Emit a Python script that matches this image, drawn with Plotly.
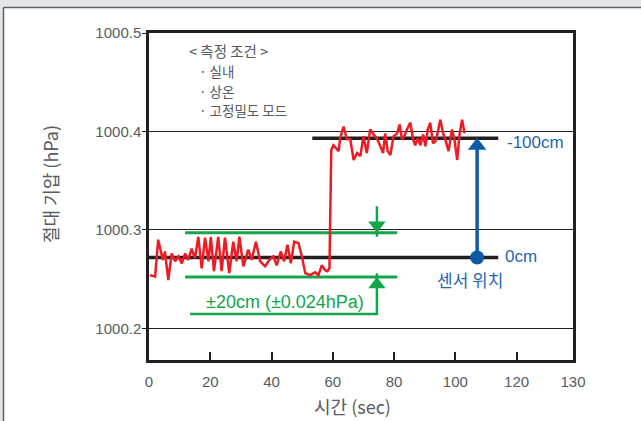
import plotly.graph_objects as go

# ---------------- data ----------------
time_s = [0.3, 2.0, 3.0, 4.5, 5.2, 6.3, 7.4, 8.5, 9.6, 10.7, 11.8, 12.8, 13.9, 15.0, 16.1, 17.2,
          18.3, 19.4, 20.2, 21.2, 22.6, 23.7, 24.8, 26.2, 27.5, 28.6, 29.5, 30.8, 32.4, 33.5,
          34.9, 36.3, 37.9, 39.3, 40.6, 41.7, 43.0, 44.1, 45.2, 46.3, 47.4, 48.8, 49.9, 51.0,
          52.6, 54.2, 55.3, 56.4, 57.5, 58.2, 58.9,
          59.5, 60.2, 61.9, 62.4, 63.5, 64.6, 65.7, 66.8, 67.9, 69.0, 70.0, 71.1, 72.2, 73.3,
          74.4, 75.5, 76.4, 77.1, 77.9, 78.8, 79.8, 81.0, 81.8, 82.6, 83.3, 84.2, 85.3, 86.2,
          86.9, 87.7, 88.6, 89.5, 90.2, 91.0, 91.8, 92.7, 93.5, 94.2, 95.1, 96.0, 96.7, 97.8,
          98.9, 99.7, 100.6, 101.4, 102.2, 103.0]
pressure_hpa = [1000.254, 1000.2525, 1000.290, 1000.2695, 1000.278, 1000.249, 1000.276, 1000.268,
                1000.273, 1000.266, 1000.276, 1000.2695, 1000.281, 1000.271, 1000.293, 1000.261,
                1000.292, 1000.268, 1000.293, 1000.258, 1000.293, 1000.258, 1000.292, 1000.256,
                1000.288, 1000.268, 1000.293, 1000.263, 1000.280, 1000.2695, 1000.288, 1000.268,
                1000.263, 1000.2695, 1000.273, 1000.264, 1000.278, 1000.268, 1000.285, 1000.266,
                1000.288, 1000.2865, 1000.273, 1000.256, 1000.254, 1000.257, 1000.254, 1000.264,
                1000.259, 1000.258, 1000.261,
                1000.381, 1000.386, 1000.380, 1000.393, 1000.405, 1000.392, 1000.392, 1000.371,
                1000.378, 1000.375, 1000.395, 1000.378, 1000.402, 1000.397, 1000.393, 1000.385,
                1000.378, 1000.398, 1000.380, 1000.376, 1000.395, 1000.398, 1000.407, 1000.392,
                1000.395, 1000.402, 1000.409, 1000.392, 1000.386, 1000.393, 1000.386, 1000.397,
                1000.385, 1000.402, 1000.409, 1000.388, 1000.390, 1000.398, 1000.412, 1000.398,
                1000.392, 1000.380, 1000.402, 1000.392, 1000.371, 1000.398, 1000.412, 1000.398]

level_0cm = 1000.272
level_m100cm = 1000.393
band_hi = 1000.297
band_lo = 1000.252

x_tick_vals = [0, 20, 40, 60, 80, 100, 120, 138.4]
x_tick_text = ["0", "20", "40", "60", "80", "100", "120", "130"]
y_tick_vals = [1000.2, 1000.3, 1000.4, 1000.5]
y_tick_text = ["1000.2", "1000.3", "1000.4", "1000.5"]

conditions = ["· 실내", "· 상온", "· 고정밀도 모드"]

# ---------------- style ----------------
RED = "#ed1c24"
BLACK = "#231f20"
GREEN = "#12a54a"
BLUE = "#0d5aa7"
BLUE_TXT = "#1f66b3"
GRAY_TXT = "#555b61"
KR = "Noto Sans CJK KR"
LAT = "Liberation Sans"

X_MAX = 138.4
Y_MIN, Y_MAX = 1000.1678, 1000.5

# plot area in pixels
L, R_, T, B = 149, 68, 33, 61
W, H = 641, 421
PW, PH = W - L - R_, H - T - B


def px(xp):
    return (xp - L) / PW


def py(yp):
    return (H - B - yp) / PH


fig = go.Figure()

# reference lines
fig.add_trace(go.Scatter(x=[0, 114], y=[level_0cm, level_0cm], mode="lines",
                         line=dict(color=BLACK, width=3.5), hoverinfo="skip"))
fig.add_trace(go.Scatter(x=[53.3, 114], y=[level_m100cm, level_m100cm], mode="lines",
                         line=dict(color=BLACK, width=3.5), hoverinfo="skip"))
# green band
for lv in (band_hi, band_lo):
    fig.add_trace(go.Scatter(x=[11.8, 81], y=[lv, lv], mode="lines",
                             line=dict(color=GREEN, width=3), hoverinfo="skip"))

# green arrow + bracket
GX = 74.4
fig.add_trace(go.Scatter(x=[GX, GX], y=[1000.324, band_hi - 0.004], mode="lines",
                         line=dict(color=GREEN, width=2.5), hoverinfo="skip"))
fig.add_trace(go.Scatter(x=[GX, GX, 13.4], y=[band_lo + 0.004, 1000.2145, 1000.2145], mode="lines",
                         line=dict(color=GREEN, width=2.5), hoverinfo="skip"))
fig.add_trace(go.Scatter(x=[GX], y=[band_hi + 0.0076], mode="markers",
                         marker=dict(symbol="triangle-down", size=15, color=GREEN), hoverinfo="skip"))
fig.add_trace(go.Scatter(x=[GX], y=[band_lo - 0.0076], mode="markers",
                         marker=dict(symbol="triangle-up", size=15, color=GREEN), hoverinfo="skip"))

# data
fig.add_trace(go.Scatter(x=time_s, y=pressure_hpa, mode="lines",
                         line=dict(color=RED, width=2.5), hoverinfo="skip"))

# blue sensor arrow
BX = 107.1
fig.add_trace(go.Scatter(x=[BX, BX], y=[level_0cm, level_m100cm - 0.008], mode="lines",
                         line=dict(color=BLUE, width=3.5), hoverinfo="skip"))
fig.add_trace(go.Scatter(x=[BX], y=[level_m100cm - 0.0076], mode="markers",
                         marker=dict(symbol="triangle-up", size=16, color=BLUE), hoverinfo="skip"))
fig.add_trace(go.Scatter(x=[BX], y=[level_0cm], mode="markers",
                         marker=dict(symbol="circle", size=14, color=BLUE), hoverinfo="skip"))

ann = []
# conditions box
ann.append(dict(x=12.4, y=1000.4821, text="< 측정 조건 >", xanchor="left", yanchor="middle",
                showarrow=False, font=dict(family=KR, size=14.5, color=GRAY_TXT)))
cond_y = [1000.4611, 1000.4412, 1000.4213]
for t, yy in zip(conditions, cond_y):
    ann.append(dict(x=15.6, y=yy, text=t, xanchor="left", yanchor="middle",
                    showarrow=False, font=dict(family=KR, size=13.5, color=GRAY_TXT)))
ann.append(dict(x=44.4, y=1000.2268, text="±20cm (±0.024hPa)", xanchor="center", yanchor="middle",
                showarrow=False, font=dict(family=LAT, size=18, color=GREEN)))
ann.append(dict(x=116.3, y=1000.3885, text="-100cm", xanchor="left", yanchor="middle",
                showarrow=False, font=dict(family=LAT, size=17, color=BLUE_TXT)))
ann.append(dict(x=115.7, y=1000.2725, text="0cm", xanchor="left", yanchor="middle",
                showarrow=False, font=dict(family=LAT, size=17, color=BLUE_TXT)))
ann.append(dict(x=104.9, y=1000.250, text="센서 위치", xanchor="center", yanchor="middle",
                showarrow=False, font=dict(family=KR, size=17, color=BLUE_TXT)))
# axis titles
ann.append(dict(xref="paper", yref="paper", x=px(50), y=py(184), text="절대 기압 (hPa)",
                textangle=-90, xanchor="center", yanchor="middle", showarrow=False,
                font=dict(family=KR, size=18, color=GRAY_TXT)))
ann.append(dict(xref="paper", yref="paper", x=px(352), y=py(406), text="시간 (sec)",
                xanchor="center", yanchor="middle", showarrow=False,
                font=dict(family=KR, size=18, color=GRAY_TXT)))

shapes = [
    dict(type="rect", xref="paper", yref="paper", x0=px(0), x1=px(W), y0=py(0), y1=py(7),
         fillcolor="#e2e6e9", line=dict(width=0), layer="above"),
    dict(type="line", xref="paper", yref="paper", x0=px(3.5), x1=px(W), y0=py(7.5), y1=py(7.5),
         line=dict(color="#5f6163", width=1.5), layer="above"),
    dict(type="rect", xref="paper", yref="paper", x0=px(0), x1=px(3), y0=py(7), y1=py(H),
         fillcolor="#e2e6e9", line=dict(width=0), layer="above"),
    dict(type="line", xref="paper", yref="paper", x0=px(3.5), x1=px(3.5), y0=py(7.5), y1=py(H),
         line=dict(color="#5f6163", width=1.5), layer="above"),
]

fig.update_layout(
    width=W, height=H,
    margin=dict(l=L, r=R_, t=T, b=B, pad=0),
    paper_bgcolor="white", plot_bgcolor="white",
    showlegend=False,
    annotations=ann,
    shapes=shapes,
    xaxis=dict(range=[0, X_MAX], tickvals=x_tick_vals, ticktext=x_tick_text,
               showgrid=False, zeroline=False, showline=True, linewidth=2.5, linecolor=BLACK,
               mirror=True, ticks="inside", ticklen=8, tickwidth=2, tickcolor=BLACK,
               ticklabelstandoff=6,
               tickfont=dict(family=LAT, size=15, color=GRAY_TXT)),
    yaxis=dict(range=[Y_MIN, Y_MAX], tickvals=y_tick_vals, ticktext=y_tick_text,
               showgrid=True, gridcolor=BLACK, gridwidth=1, zeroline=False,
               showline=True, linewidth=2.5, linecolor=BLACK, mirror=True,
               ticks="outside", ticklen=4, tickwidth=1, tickcolor=BLACK,
               ticklabelstandoff=-2,
               tickfont=dict(family=LAT, size=15, color=GRAY_TXT)),
)

fig.write_html("out.html", config={"displayModeBar": False},
               post_script="document.body.style.margin='0';document.body.style.overflow='hidden';")
